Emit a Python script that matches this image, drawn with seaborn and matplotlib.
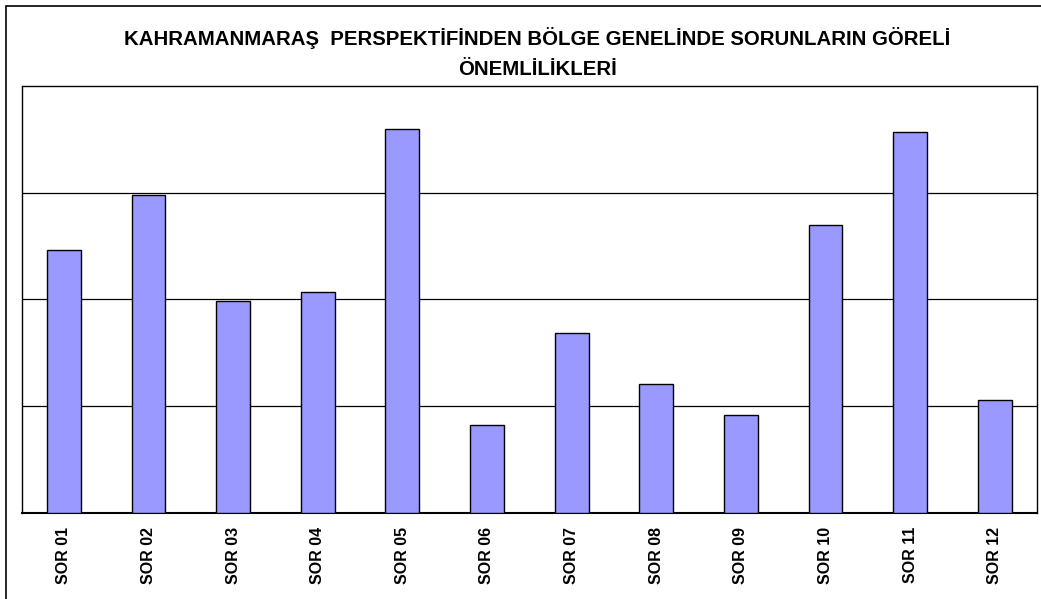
import numpy as np
import pandas as pd
import seaborn as sns
import matplotlib.pyplot as plt
from matplotlib.patches import Rectangle
from matplotlib.ticker import FixedLocator

# Veriler
sorunlar = ["SOR 01", "SOR 02", "SOR 03", "SOR 04", "SOR 05", "SOR 06",
            "SOR 07", "SOR 08", "SOR 09", "SOR 10", "SOR 11", "SOR 12"]
onem = [2.46, 2.98, 1.98, 2.07, 3.60, 0.82, 1.68, 1.21, 0.92, 2.70, 3.57, 1.06]
baslik = "KAHRAMANMARAŞ  PERSPEKTİFİNDEN BÖLGE GENELİNDE SORUNLARIN GÖRELİ\nÖNEMLİLİKLERİ"

df = pd.DataFrame({"sorun": sorunlar, "onem": onem})

sns.set_style("white")
plt.rcParams["font.family"] = ["Liberation Sans", "DejaVu Sans"]

fig = plt.figure(figsize=(10.41, 5.99), dpi=100)
ax = fig.add_axes([0.0207, 0.1441, 0.9755, 0.7123])

sns.barplot(data=df, x="sorun", y="onem", order=sorunlar, color="#9999FF",
            saturation=1, width=0.4, edgecolor="black", linewidth=1, ax=ax, zorder=3)

ax.set_xlim(-0.5, len(sorunlar) - 0.5)
ax.set_ylim(0, 4)
ax.set_yticks([1, 2, 3])
ax.set_yticklabels([])
ax.tick_params(axis="y", length=0)
ax.yaxis.grid(True, color="black", linewidth=0.9, zorder=0)
ax.set_axisbelow(True)

ax.set_xlabel("")
ax.set_ylabel("")
ax.tick_params(axis="x", which="major", length=0, pad=10, labelcolor="black")
ax.xaxis.set_minor_locator(FixedLocator(np.arange(-0.5, len(sorunlar), 1)))
ax.tick_params(axis="x", which="minor", length=5, width=1, color="black", direction="out")
for lbl in ax.get_xticklabels():
    lbl.set_rotation(90)
    lbl.set_fontweight("bold")
    lbl.set_fontsize(11.5)
    lbl.set_va("top")

for sp in ax.spines.values():
    sp.set_visible(True)
    sp.set_color("black")
    sp.set_linewidth(1)
ax.spines["bottom"].set_linewidth(1.5)

fig.text(0.516, 0.912, baslik, ha="center", va="center", fontsize=14.7,
         fontweight="bold", linespacing=1.75, color="black")

# dis cerceve
fig.patches.append(Rectangle((6 / 1041, -0.05), 1.1, 1 - 6 / 599 + 0.05,
                             transform=fig.transFigure, fill=False,
                             edgecolor="black", linewidth=1.2))

fig.savefig("out.png", dpi=100)
